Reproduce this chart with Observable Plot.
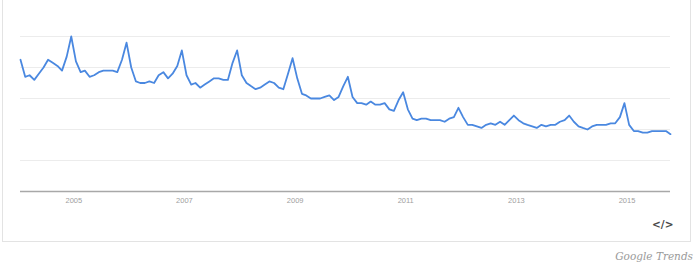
<!DOCTYPE html>
<html>
<head>
<meta charset="utf-8">
<script src="https://cdn.jsdelivr.net/npm/d3@7"></script>
<script src="https://cdn.jsdelivr.net/npm/@observablehq/plot@0.6"></script>
<style>
  html, body { margin: 0; padding: 0; background: #fff; }
  #wrap { position: relative; width: 700px; height: 265px; overflow: hidden; font-family: Arial, "Liberation Sans", sans-serif; }
  #box { position: absolute; left: 2px; top: -2px; width: 689px; height: 244px; border: 1px solid #e3e3e3; box-sizing: border-box; }
  #chart { position: absolute; left: 0; top: 0; }
  #embed { position: absolute; left: 652px; top: 217px; font-size: 10.5px; line-height: 14px; color: #4a4a4a; font-weight: bold; white-space: nowrap; font-family: "DejaVu Sans", sans-serif; }
  #brand { position: absolute; right: 7px; top: 250px; line-height: 13px; white-space: nowrap; font-family: "DejaVu Serif", "Liberation Serif", serif; font-style: italic; font-size: 10.5px; color: #9a9a9a; }
</style>
</head>
<body>
<div id="wrap">
  <div id="box"></div>
  <div id="chart"></div>
  <div id="embed">&lt;/&gt;</div>
  <div id="brand">Google Trends</div>
</div>
<script>
// Monthly interest values, January 2004 onward
const startYear = 2004;
const startMonth = 0;
const values = [
  85, 74, 75, 72, 76, 80, 85, 83, 81, 78, 87, 100,
  84, 77, 78, 74, 75, 77, 78, 78, 78, 77, 85, 96,
  80, 71, 70, 70, 71, 70, 75, 77, 73, 76, 81, 91,
  75, 69, 70, 67, 69, 71, 73, 73, 72, 72, 83, 91,
  75, 70, 68, 66, 67, 69, 71, 70, 67, 66, 76, 86,
  73, 63, 62, 60, 60, 60, 61, 62, 59, 61, 68, 74,
  61, 57, 57, 56, 58, 56, 56, 57, 53, 52, 59, 64,
  53, 47, 46, 47, 47, 46, 46, 46, 45, 47, 48, 54,
  48, 43, 43, 42, 41, 43, 44, 43, 45, 43, 46, 49,
  46, 44, 43, 42, 41, 43, 42, 43, 43, 45, 46, 49,
  45, 42, 41, 40, 42, 43, 43, 43, 44, 44, 48, 57,
  43, 39, 39, 38, 38, 39, 39, 39, 39, 37
];
const yGrid = [20, 40, 60, 80, 100];
const xTickYears = [2005, 2007, 2009, 2011, 2013, 2015];

const data = values.map((v, i) => ({
  date: new Date(startYear, startMonth + i, 15),
  value: v
}));

const chart = Plot.plot({
  width: 700,
  height: 242,
  marginLeft: 20,
  marginRight: 30,
  marginTop: 36,
  marginBottom: 51,
  style: { background: "transparent", fontFamily: "Arial, 'Liberation Sans', sans-serif" },
  x: { type: "time", domain: [data[0].date, data[data.length - 1].date] },
  y: { domain: [0, 100] },
  marks: [
    Plot.gridY(yGrid, { stroke: "#ececec", strokeOpacity: 1, strokeWidth: 1 }),
    Plot.ruleY([0], { stroke: "#a8a8a8", strokeWidth: 1.5 }),
    Plot.axisX(xTickYears.map(y => new Date(y, 0, 1)), {
      tickSize: 0, tickPadding: 6, fontSize: 7.5, fill: "#a0a0a0",
      tickFormat: d => String(d.getFullYear())
    }),
    Plot.axisY({ ticks: [], label: null, tickSize: 0 }),
    Plot.line(data, { x: "date", y: "value", stroke: "#4a88e0", strokeWidth: 1.8, curve: "linear" })
  ]
});
document.getElementById("chart").appendChild(chart);
</script>
</body>
</html>
